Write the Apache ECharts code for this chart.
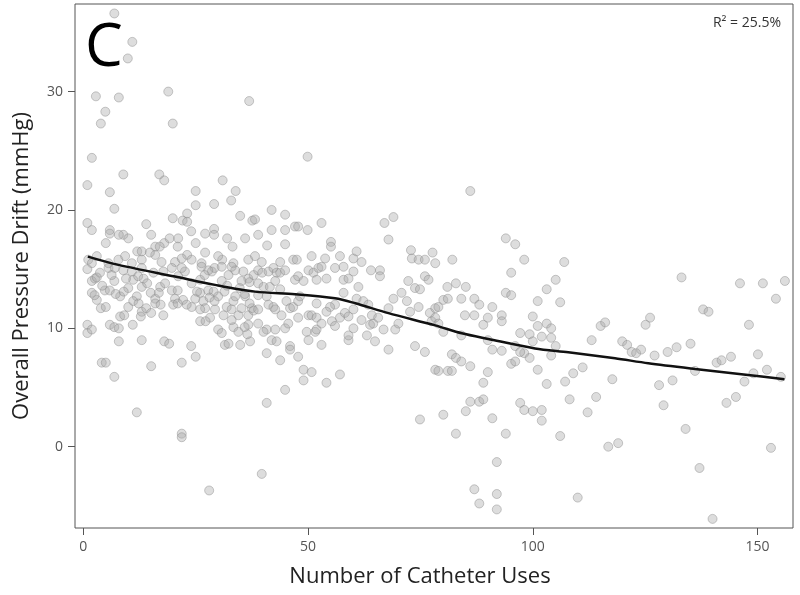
<!DOCTYPE html>
<html>
<head>
    <meta charset="utf-8">
    <title>Catheter uses vs pressure drift</title>
    <script src="https://cdn.jsdelivr.net/npm/echarts@6.0.0/dist/echarts.min.js"></script>
    <style>
        html, body { margin: 0; padding: 0; background: #fff; }
        #chart { width: 800px; height: 595px; }
    </style>
</head>
<body>
<div id="chart"></div>
<script>
    // scatter points: number of catheter uses / overall pressure drift (mmHg)
    var uses = [
        6.9, 10.9, 9.9, 2.8, 7.9, 4.9, 3.9, 18.9, 19.9, 36.9, 1.9, 0.9, 8.9, 16.9, 18.0, 5.9, 31.0, 33.9, 25.0, 6.9,
        0.9, 1.9, 5.9, 5.9, 14.0, 19.9, 25.0, 29.1, 32.9, 34.9, 37.6, 23.1, 22.1, 23.1, 24.0, 29.1, 29.1, 32.0, 36.0, 8.9,
        10.0, 7.9, 5.0, 12.0, 13.0, 16.0, 16.0, 18.0, 21.1, 21.0, 23.1, 25.0, 27.1, 30.9, 33.2, 1.1, 3.0, 7.8, 9.3, 13.0,
        17.4, 20.4, 21.9, 24.1, 26.3, 30.0, 33.4, 36.7, 14.8, 10.8, 5.6, 15.1, 27.1, 19.2, 17.0, 1.9,
        0.9, 0.9, 1.9, 5.9, 6.9, 7.9, 7.9, 13.0, 18.0, 19.1, 24.0, 25.0, 21.9, 15.1, 4.1, 5.0, 6.9, 11.9, 21.9, 21.9,
        28.0, 0.9, 1.9, 2.6, 3.7, 4.8, 5.9, 1.9, 3.0, 3.9, 5.0, 6.9, 8.2, 10.0, 11.1, 12.2, 13.4, 13.0, 11.9, 11.1,
        10.0, 8.2, 9.1, 13.0, 14.0, 15.1, 16.0, 16.0, 17.1, 18.2, 19.7, 17.8, 20.4, 20.0, 21.1, 22.6, 24.1, 24.1, 24.9, 26.0,
        26.7, 27.1, 27.8, 28.6, 29.2, 29.3, 30.0, 31.2, 31.9, 33.0, 33.4, 33.8, 34.5, 35.2, 36.0, 36.7, 37.5, 30.8, 32.3, 33.8,
        35.6, 36.7, 26.0, 28.2, 30.0, 30.8, 31.5, 32.3, 33.4, 34.5, 34.9, 36.7, 37.1, 5.6, 7.0, 8.9, 10.8, 13.0, 15.6, 17.8,
        19.7, 21.9, 26.3, 27.8, 30.8, 33.0, 35.2, 3.0, 4.2, 7.2, 9.0, 2.5, 6.3, 9.5, 14.2, 16.8, 15.0, 17.2, 12.3, 12.8,
        11.0, 21.0, 22.2, 23.0, 25.3, 26.0, 27.0, 29.0, 28.1, 26.0, 21.0, 29.2, 27.2, 31.4, 34.8, 35.9, 37.0, 37.9, 33.0, 35.9,
        37.0, 37.9, 32.0, 36.5,
        49.9, 41.9, 44.9, 38.2, 38.9, 41.9, 44.9, 47.1, 47.8, 49.9, 53.0, 40.9, 44.9, 55.1, 55.1, 67.0, 69.0, 67.9, 72.9, 73.1,
        74.6, 76.0, 77.7, 38.2, 39.7, 43.8, 46.7, 47.5, 50.8, 53.8, 57.1, 60.1, 60.8, 61.9, 78.3,
        38.9, 39.8, 41.2, 42.3, 43.0, 43.8, 44.9, 38.9, 40.1, 41.5, 42.7, 43.8, 38.9, 40.8, 38.9, 41.2, 42.3, 42.7, 44.1, 45.2,
        46.0, 46.7, 47.8, 48.2, 47.1, 47.8, 49.0, 50.1, 51.2, 51.9, 52.3, 53.0, 54.1, 56.0, 57.9, 57.9, 59.0, 60.1, 61.2, 57.9,
        56.0, 54.9, 54.1, 51.9, 50.1, 50.8, 51.9, 38.9, 40.8, 42.7, 44.9, 45.6, 47.8, 49.7, 51.6, 51.9, 53.0, 55.3, 56.0, 57.1,
        58.2, 59.0, 60.1, 60.8, 62.3, 63.4, 64.2, 61.9, 63.8, 64.5, 65.6, 66.8, 67.9, 69.0, 69.4, 70.1, 70.8, 72.0, 72.3, 73.8,
        74.9, 76.0, 76.8, 72.7, 74.6, 77.1, 77.5, 78.3, 40.1, 41.9, 43.0, 46.0, 46.0, 43.8, 40.8, 47.8, 49.0, 50.8, 49.0, 54.1,
        57.1, 44.9, 40.8, 53.0, 50.1, 59.0, 59.0, 60.1, 63.1, 64.9, 67.9, 73.8, 76.0, 74.9, 39.7, 78.3, 64.0, 66.0, 66.0,
        86.1, 94.0, 96.1, 82.1, 98.1, 107.0,
        95.2, 105.1, 103.1, 106.1, 101.1, 81.0, 82.9, 85.1, 80.1, 81.1, 84.1, 87.0, 88.1, 79.0, 91.0, 94.0, 95.2, 84.9, 87.0, 89.0,
        90.0, 93.1, 93.1, 100.0, 78.3, 79.0, 80.1, 84.1, 97.2, 99.3, 101.1, 103.1, 104.1, 102.0, 104.1, 100.0, 105.1, 113.1, 115.1, 116.1,
        90.0, 91.0, 93.1, 96.1, 98.1, 97.2, 99.3, 104.1, 95.2, 96.1, 82.0, 82.9, 84.1, 86.1, 79.0, 81.1, 82.0, 90.0, 89.0, 101.1,
        103.1, 107.2, 109.0, 111.1, 117.7, 86.1, 88.1, 89.0, 85.1, 97.2, 98.1, 100.0, 102.0, 102.0, 108.2, 114.1, 112.2, 80.1, 91.0, 82.9,
        94.0, 106.1, 116.8, 92.0, 87.0, 92.0, 88.1, 92.0, 110.0,
        133.1, 146.1, 151.2, 156.1, 154.1, 137.9, 139.1, 148.1, 126.1, 125.1, 119.9, 121.0, 122.0, 123.0, 124.1, 127.1, 130.0, 132.0, 135.1, 136.1,
        140.9, 142.0, 144.1, 150.1, 152.1, 149.1, 147.1, 155.2, 128.1, 131.1, 129.1, 143.1, 145.2, 134.0, 119.0, 153.0, 137.1, 140.0
    ];
    var drift = [
        36.6, 34.2, 32.8, 29.6, 29.5, 28.3, 27.3, 30.0, 27.3, 29.2, 24.4, 22.1, 23.0, 23.0, 22.5, 21.5, 22.5, 21.6, 21.6, 20.1,
        18.9, 18.3, 18.3, 18.0, 18.8, 19.3, 20.4, 20.5, 20.8, 19.5, 19.1, 19.7, 19.1, 19.0, 18.2, 18.4, 17.9, 17.6, 17.6, 17.9,
        17.6, 17.9, 17.2, 16.5, 16.5, 16.9, 16.2, 17.2, 17.6, 16.9, 16.2, 17.2, 16.4, 15.8, 16.9, 15.8, 16.1, 15.8, 16.1, 15.8,
        15.6, 15.6, 15.9, 15.8, 15.5, 16.1, 15.5, 15.8, 16.4, 15.5, 15.5, 17.9, 18.0, 17.6, 16.9, 15.5,
        10.3, 9.6, 9.9, 10.3, 10.1, 10.0, 8.9, 9.0, 8.9, 8.7, 8.5, 7.6, 7.1, 6.8, 7.1, 7.1, 5.9, 2.9, 1.1, 0.8,
        -3.7, 15.0, 14.0, 14.2, 14.7, 13.2, 13.2, 13.0, 12.4, 11.7, 11.8, 14.0, 12.7, 13.4, 14.1, 14.4, 14.2, 13.5, 12.7, 12.3,
        11.8, 11.0, 11.1, 11.4, 11.7, 11.3, 12.5, 12.1, 13.5, 13.8, 13.2, 11.1, 12.5, 12.0, 14.4, 14.8, 13.8, 11.8, 12.5, 13.0,
        12.3, 11.7, 13.2, 14.8, 15.1, 11.6, 12.7, 11.1, 11.8, 11.6, 12.3, 12.7, 11.1, 11.7, 12.7, 11.1, 11.7, 14.0, 14.5, 14.9,
        14.8, 14.2, 10.6, 10.9, 9.9, 9.6, 8.6, 8.7, 10.1, 9.7, 8.6, 10.3, 8.9, 15.1, 15.1, 14.9, 14.8, 15.1, 14.7, 14.8,
        15.1, 15.1, 15.2, 14.9, 15.2, 15.2, 14.0, 14.3, 13.6, 12.9, 13.1, 12.8, 14.5, 14.2, 13.8, 13.0, 13.0, 12.0, 12.1, 11.0,
        10.3, 13.2, 12.4, 12.0, 13.1, 14.1, 14.5, 13.1, 12.6, 11.6, 12.1, 12.3, 10.6, 13.1, 13.4, 12.9, 13.9, 14.5, 10.7, 10.1,
        12.1, 11.5, 13.6, 9.5,
        24.5, 20.0, 19.6, 19.2, 17.9, 18.3, 18.3, 18.6, 18.6, 18.3, 18.9, 17.0, 17.1, 17.3, 16.9, 18.9, 19.4, 17.5, 16.6, 15.9,
        15.8, 15.8, 16.4, 16.1, 15.6, 15.6, 15.8, 15.8, 16.1, 15.9, 16.1, 15.9, 16.5, 15.6, 15.5,
        14.9, 14.7, 14.8, 15.1, 14.7, 14.7, 14.9, 13.8, 13.5, 13.5, 14.0, 13.3, 12.8, 12.7, 11.6, 12.0, 11.8, 11.6, 11.1, 12.3,
        11.7, 11.8, 12.3, 12.7, 14.1, 14.4, 14.0, 14.9, 14.7, 14.1, 15.1, 15.2, 14.2, 15.1, 15.2, 14.1, 14.2, 14.8, 13.5, 13.0,
        12.0, 11.8, 11.4, 12.1, 11.1, 11.1, 10.9, 10.4, 9.9, 9.9, 10.0, 10.4, 10.9, 9.7, 9.7, 9.9, 10.4, 10.6, 10.2, 10.9,
        11.3, 11.0, 11.6, 12.5, 12.3, 12.0, 11.1, 10.7, 10.3, 10.4, 10.9, 9.9, 11.7, 12.5, 9.9, 10.4, 13.0, 12.3, 14.0, 13.4,
        13.3, 14.4, 14.1, 11.4, 11.8, 11.3, 10.6, 11.7, 9.7, 9.0, 8.9, 8.5, 8.2, 7.3, 7.9, 7.6, 6.5, 6.3, 5.6, 5.4,
        6.1, 4.8, 3.7, 8.6, 9.0, 9.0, 9.4, 10.0, 9.4, 8.9, 8.2, 8.5, 8.0, 2.3, -2.3, 6.5, 14.9, 14.9, 14.4,
        21.6, 17.6, 17.1, 15.8, 15.8, 15.6,
        14.7, 14.1, 13.3, 12.2, 12.3, 13.5, 13.8, 13.5, 12.4, 12.5, 12.5, 12.5, 12.0, 11.8, 11.8, 13.0, 12.8, 11.1, 11.1, 10.3,
        10.9, 11.1, 10.6, 11.0, 10.9, 10.4, 9.7, 9.4, 9.6, 9.5, 10.2, 10.4, 10.0, 9.3, 9.2, 8.9, 8.5, 9.0, 10.2, 10.5,
        9.0, 8.2, 8.1, 8.5, 7.9, 8.0, 7.5, 7.7, 7.0, 7.2, 7.8, 7.5, 7.2, 6.8, 6.4, 6.4, 6.4, 6.3, 5.4, 6.5,
        5.3, 5.5, 6.2, 6.7, 5.7, 3.8, 3.8, 4.0, 3.0, 3.7, 3.1, 3.0, 3.1, 2.2, 4.0, 4.2, 2.9, 2.7, 2.4, 1.1,
        1.1, 0.9, 0.0, -1.3, -3.6, -4.0, -4.8, -5.3, -4.3,
        14.3, 13.8, 13.8, 14.0, 12.5, 11.6, 11.4, 10.3, 10.9, 10.3, 8.9, 8.6, 8.0, 7.9, 8.2, 7.7, 8.0, 8.4, 8.7, 6.4,
        7.1, 7.3, 7.6, 7.8, 6.5, 6.2, 5.5, 5.9, 5.2, 5.6, 3.5, 3.7, 4.2, 1.5, 0.3, -0.1, -1.8, -6.1
    ];

    // fitted trend curve
    var fitUses = [1, 7.8, 20.4, 29.3, 38.2, 47.1, 56, 60.5, 67.9, 78.3, 84.2, 90.1, 100.5, 107.9, 118.3, 125.7, 136.1, 147.9, 156];
    var fitDrift = [16.06, 15.36, 14.37, 13.67, 13.1, 12.88, 12.54, 12.12, 11.28, 10.25, 9.58, 9.1, 8.3, 7.98, 7.47, 7.05, 6.57, 6.06, 5.7];

    var xTicks = [0, 50, 100, 150];
    var yTicks = [0, 10, 20, 30];

    var points = uses.map(function (u, i) { return [u, drift[i]]; });
    var fit = fitUses.map(function (u, i) { return [u, fitDrift[i]]; });

    var font = '"Open Sans", "Noto Sans", sans-serif';

    var myChart = echarts.init(document.getElementById('chart'), null, {renderer: 'canvas'});

    var option = {
        animation: false,
        backgroundColor: '#fff',
        grid: {
            left: 75, right: 7, top: 4, bottom: 67,
            show: true, borderColor: '#555', borderWidth: 1, backgroundColor: 'transparent'
        },
        xAxis: {
            type: 'value',
            min: -1.85,
            max: 157.9,
            axisLine: {show: false, onZero: false},
            splitLine: {show: false},
            axisTick: {show: true, inside: false, customValues: xTicks, length: 7, lineStyle: {color: '#555'}},
            axisLabel: {customValues: xTicks, margin: 12, fontSize: 14, color: '#555', fontFamily: font},
            name: 'Number of Catheter Uses',
            nameLocation: 'middle',
            nameGap: 38,
            nameTextStyle: {fontSize: 22, color: '#222', fontFamily: font, padding: [0, 28, 0, 0]}
        },
        yAxis: {
            type: 'value',
            min: -6.87,
            max: 37.4,
            axisLine: {show: false, onZero: false},
            splitLine: {show: false},
            axisTick: {show: true, inside: false, customValues: yTicks, length: 7, lineStyle: {color: '#555'}},
            axisLabel: {customValues: yTicks, margin: 12, fontSize: 14, color: '#555', fontFamily: font},
            name: 'Overall Pressure Drift (mmHg)',
            nameLocation: 'middle',
            nameGap: 42,
            nameTextStyle: {fontSize: 22, color: '#222', fontFamily: font}
        },
        graphic: [
            {type: 'text', left: 85, top: 19, style: {text: 'C', font: '60px ' + font, fill: '#000'}},
            {type: 'text', right: 19, top: 16, style: {text: 'R² = 25.5%', font: '14px ' + font, fill: '#333'}}
        ],
        series: [
            {
                type: 'scatter',
                data: points,
                symbolSize: 9,
                itemStyle: {
                    color: 'rgba(170,170,170,0.5)',
                    borderColor: 'rgba(135,135,135,0.55)',
                    borderWidth: 1
                }
            },
            {
                type: 'line',
                data: fit,
                smooth: 0.3,
                symbol: 'none',
                z: 5,
                lineStyle: {color: '#111', width: 2.5}
            }
        ]
    };

    myChart.setOption(option);
</script>
</body>
</html>
